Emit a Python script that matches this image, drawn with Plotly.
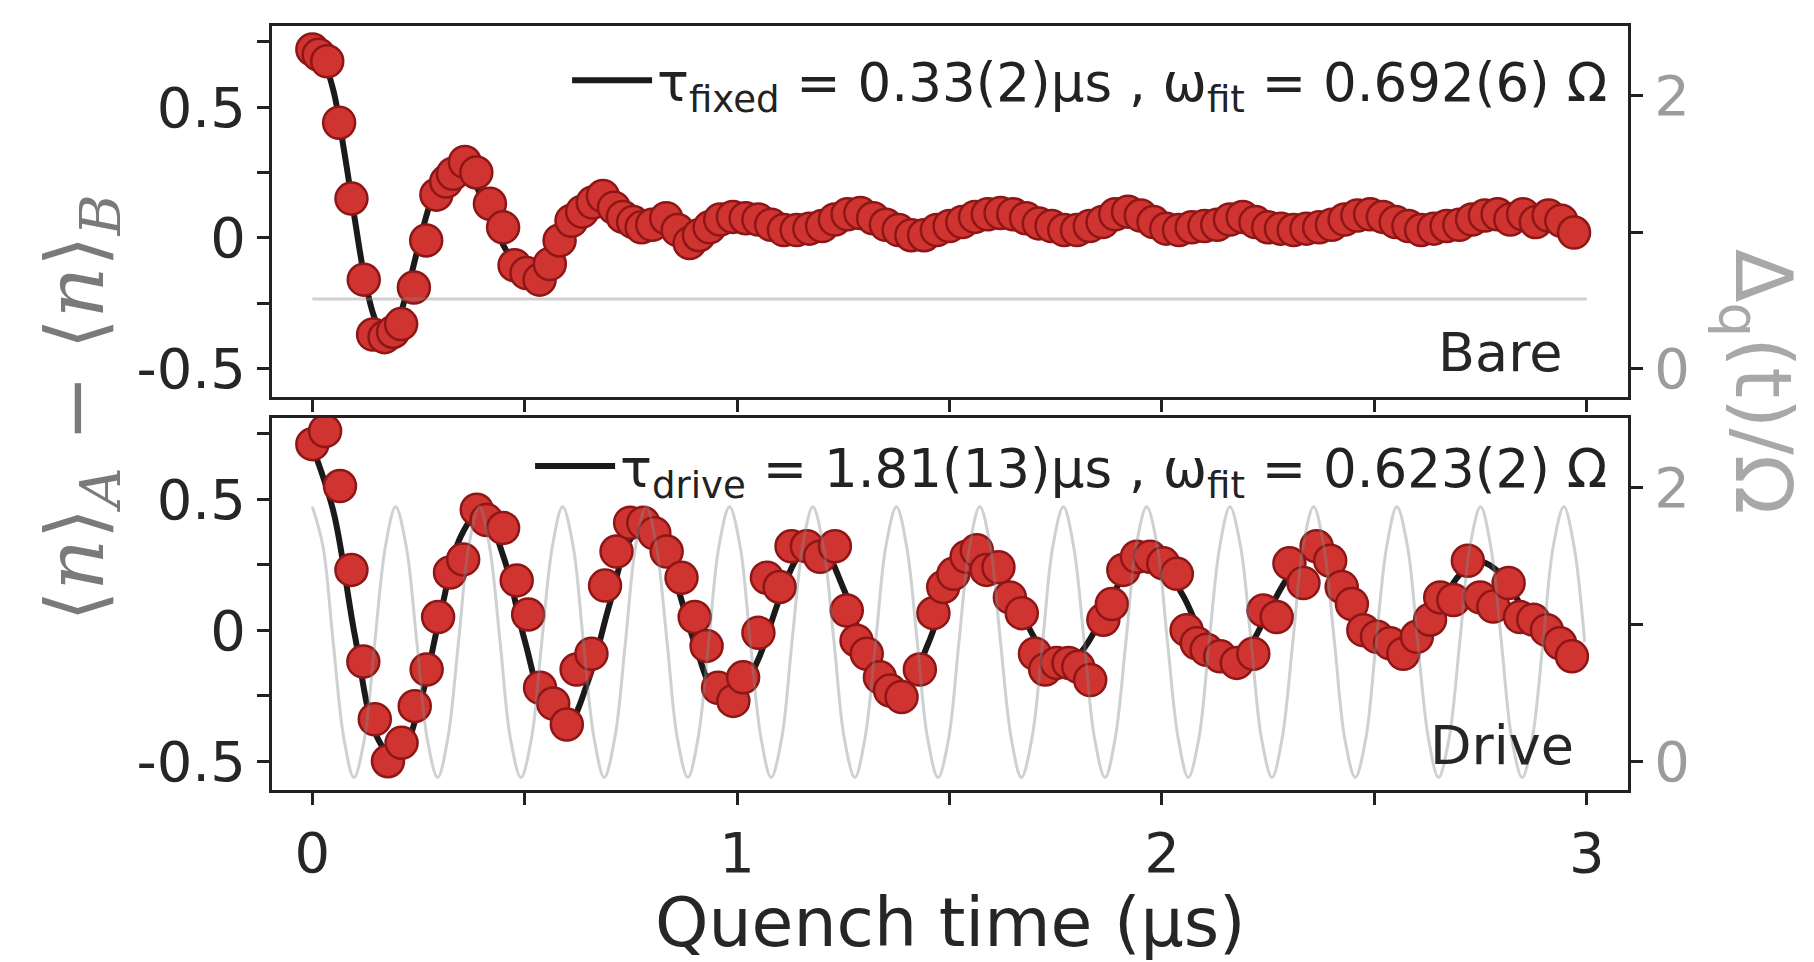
import plotly.graph_objects as go

# ---------------- data ----------------
# Bare panel: measured imbalance <n>_A - <n>_B
bare_t = [0.000, 0.015, 0.035, 0.063, 0.092, 0.121, 0.143, 0.170, 0.190, 0.209,
          0.239, 0.268, 0.292, 0.315, 0.331, 0.359, 0.386, 0.418, 0.449, 0.476,
          0.504, 0.535, 0.559, 0.582, 0.610, 0.635, 0.660, 0.684, 0.710, 0.731,
          0.755, 0.775, 0.800, 0.833, 0.860, 0.888, 0.910, 0.935, 0.960, 0.990,
          1.02, 1.05, 1.08, 1.11, 1.14, 1.17, 1.20, 1.23, 1.26, 1.29,
          1.32, 1.35, 1.38, 1.41, 1.44, 1.47, 1.50, 1.53, 1.56, 1.59,
          1.62, 1.65, 1.68, 1.71, 1.74, 1.77, 1.80, 1.83, 1.86, 1.89,
          1.92, 1.95, 1.98, 2.01, 2.04, 2.07, 2.10, 2.13, 2.16, 2.19,
          2.22, 2.25, 2.28, 2.31, 2.34, 2.37, 2.40, 2.43, 2.46, 2.49,
          2.52, 2.55, 2.58, 2.61, 2.64, 2.67, 2.70, 2.73, 2.76, 2.79,
          2.82, 2.85, 2.88, 2.91, 2.94, 2.97]
bare_v = [0.72, 0.70, 0.675, 0.44, 0.15, -0.16, -0.37, -0.38, -0.36, -0.33,
          -0.19, -0.01, 0.165, 0.215, 0.245, 0.29, 0.25, 0.13, 0.04, -0.105,
          -0.135, -0.16, -0.10, -0.01, 0.065, 0.10, 0.135, 0.16, 0.115, 0.08,
          0.06, 0.04, 0.05, 0.075, 0.03, -0.02, 0.01, 0.04, 0.07, 0.08,
          0.075, 0.07, 0.05, 0.03, 0.03, 0.035, 0.045, 0.07, 0.09, 0.095,
          0.075, 0.05, 0.03, 0.01, 0.01, 0.03, 0.045, 0.06, 0.08, 0.09,
          0.095, 0.09, 0.075, 0.055, 0.045, 0.03, 0.03, 0.045, 0.06, 0.09,
          0.10, 0.085, 0.06, 0.035, 0.03, 0.04, 0.045, 0.05, 0.07, 0.08,
          0.06, 0.04, 0.035, 0.03, 0.035, 0.04, 0.05, 0.07, 0.085, 0.09,
          0.08, 0.06, 0.045, 0.03, 0.035, 0.045, 0.05, 0.07, 0.085, 0.09,
          0.07, 0.09, 0.06, 0.085, 0.065, 0.02]

# Bare panel fit (tau_fixed)
bare_fit_t = [0.000, 0.025, 0.050, 0.075, 0.100, 0.125, 0.150, 0.175, 0.200, 0.225,
              0.250, 0.275, 0.300, 0.325, 0.350, 0.375, 0.400, 0.425, 0.450, 0.475,
              0.500, 0.525, 0.550, 0.575, 0.600, 0.625, 0.650, 0.675, 0.700, 0.725,
              0.750, 0.800, 0.850, 0.900, 0.950, 1.000, 1.100, 1.200, 1.500, 2.000,
              2.500, 2.970]
bare_fit_v = [0.72, 0.68, 0.56, 0.33, 0.07, -0.17, -0.32, -0.37, -0.32, -0.19,
              -0.03, 0.12, 0.22, 0.27, 0.27, 0.23, 0.15, 0.06, -0.03, -0.09,
              -0.12, -0.11, -0.07, -0.01, 0.05, 0.10, 0.12, 0.12, 0.10, 0.08,
              0.05, 0.03, 0.04, 0.06, 0.075, 0.075, 0.065, 0.06, 0.06, 0.06,
              0.06, 0.06]

# Bare panel: static detuning level (right axis)
bare_level_t = [0.0, 3.0]
bare_level_v = [0.51, 0.51]

# Drive panel: measured imbalance
drive_t = [0.000, 0.030, 0.065, 0.092, 0.120, 0.147, 0.178, 0.210, 0.241, 0.269,
           0.296, 0.324, 0.355, 0.387, 0.410, 0.449, 0.481, 0.508, 0.536, 0.567,
           0.599, 0.622, 0.657, 0.689, 0.716, 0.748, 0.779, 0.805, 0.834, 0.869,
           0.900, 0.928, 0.955, 0.991, 1.014, 1.050, 1.070, 1.100, 1.128, 1.164,
           1.195, 1.230, 1.258, 1.281, 1.305, 1.336, 1.360, 1.387, 1.430, 1.462,
           1.485, 1.509, 1.540, 1.564, 1.587, 1.615, 1.642, 1.670, 1.701, 1.725,
           1.752, 1.780, 1.803, 1.831, 1.862, 1.882, 1.909, 1.941, 1.972, 2.003,
           2.035, 2.058, 2.082, 2.105, 2.137, 2.176, 2.215, 2.239, 2.270, 2.300,
           2.333, 2.364, 2.396, 2.423, 2.447, 2.474, 2.506, 2.537, 2.568, 2.600,
           2.631, 2.655, 2.686, 2.720, 2.749, 2.780, 2.816, 2.843, 2.874, 2.906,
           2.937, 2.965]
drive_v = [0.71, 0.76, 0.55, 0.23, -0.12, -0.34, -0.50, -0.43, -0.29, -0.15,
           0.05, 0.22, 0.27, 0.46, 0.42, 0.39, 0.19, 0.06, -0.22, -0.28,
           -0.36, -0.15, -0.09, 0.17, 0.30, 0.41, 0.41, 0.37, 0.30, 0.20,
           0.05, -0.06, -0.22, -0.27, -0.18, -0.01, 0.20, 0.165, 0.32, 0.32,
           0.28, 0.32, 0.075, -0.04, -0.09, -0.18, -0.23, -0.255, -0.15, 0.065,
           0.165, 0.215, 0.28, 0.305, 0.23, 0.24, 0.125, 0.065, -0.09, -0.15,
           -0.125, -0.125, -0.14, -0.19, 0.04, 0.10, 0.23, 0.28, 0.28, 0.255,
           0.215, 0.0, -0.05, -0.075, -0.10, -0.125, -0.09, 0.075, 0.05, 0.255,
           0.18, 0.32, 0.265, 0.165, 0.10, 0.0, -0.025, -0.05, -0.09, -0.025,
           0.04, 0.125, 0.115, 0.265, 0.125, 0.09, 0.18, 0.05, 0.04, 0.0,
           -0.05, -0.10]

# Drive panel fit (tau_drive)
drive_fit_t = [0.00, 0.05, 0.10, 0.15, 0.20, 0.25, 0.30, 0.35, 0.40, 0.45,
               0.50, 0.55, 0.60, 0.65, 0.70, 0.75, 0.80, 0.85, 0.90, 0.95,
               1.00, 1.05, 1.10, 1.15, 1.20, 1.25, 1.30, 1.35, 1.40, 1.45,
               1.50, 1.55, 1.60, 1.65, 1.70, 1.75, 1.80, 1.85, 1.90, 1.95,
               2.00, 2.05, 2.10, 2.15, 2.20, 2.25, 2.30, 2.35, 2.40, 2.45,
               2.50, 2.55, 2.60, 2.65, 2.70, 2.75, 2.80, 2.85, 2.90, 2.95,
               2.98]
drive_fit_v = [0.70, 0.45, -0.02, -0.40, -0.50, -0.30, 0.05, 0.36, 0.46, 0.28,
               -0.04, -0.30, -0.36, -0.19, 0.10, 0.35, 0.39, 0.21, -0.05, -0.24,
               -0.25, -0.11, 0.12, 0.29, 0.31, 0.16, -0.06, -0.22, -0.21, -0.05,
               0.17, 0.30, 0.28, 0.14, -0.03, -0.13, -0.10, 0.02, 0.18, 0.27,
               0.25, 0.13, -0.03, -0.10, -0.07, 0.07, 0.21, 0.29, 0.25, 0.12,
               -0.01, -0.07, -0.03, 0.08, 0.21, 0.26, 0.21, 0.08, -0.04, -0.08,
               -0.07]

# Drive panel: modulated detuning Delta_q(t)/Omega (right axis)
mod_t = [0.000, 0.025, 0.049, 0.074, 0.098, 0.123, 0.147, 0.172, 0.196, 0.221,
         0.246, 0.270, 0.295, 0.319, 0.344, 0.368, 0.393, 0.417, 0.442, 0.466,
         0.491, 0.516, 0.540, 0.565, 0.589, 0.614, 0.638, 0.663, 0.687, 0.712,
         0.737, 0.761, 0.786, 0.810, 0.835, 0.859, 0.884, 0.908, 0.933, 0.957,
         0.982, 1.007, 1.031, 1.056, 1.080, 1.105, 1.129, 1.154, 1.178, 1.203,
         1.228, 1.252, 1.277, 1.301, 1.326, 1.350, 1.375, 1.399, 1.424, 1.448,
         1.473, 1.498, 1.522, 1.547, 1.571, 1.596, 1.620, 1.645, 1.669, 1.694,
         1.719, 1.743, 1.768, 1.792, 1.817, 1.841, 1.866, 1.890, 1.915, 1.939,
         1.964, 1.989, 2.013, 2.038, 2.062, 2.087, 2.111, 2.136, 2.160, 2.185,
         2.210, 2.234, 2.259, 2.283, 2.308, 2.332, 2.357, 2.381, 2.406, 2.430,
         2.455, 2.480, 2.504, 2.529, 2.553, 2.578, 2.602, 2.627, 2.651, 2.676,
         2.701, 2.725, 2.750, 2.774, 2.799, 2.823, 2.848, 2.872, 2.897, 2.921,
         2.946, 2.970, 2.995]
mod_v = [1.86, 1.57, 0.87, 0.17, -0.12, 0.17, 0.87, 1.57,
         1.86, 1.57, 0.87, 0.17, -0.12, 0.17, 0.87, 1.57,
         1.86, 1.57, 0.87, 0.17, -0.12, 0.17, 0.87, 1.57,
         1.86, 1.57, 0.87, 0.17, -0.12, 0.17, 0.87, 1.57,
         1.86, 1.57, 0.87, 0.17, -0.12, 0.17, 0.87, 1.57,
         1.86, 1.57, 0.87, 0.17, -0.12, 0.17, 0.87, 1.57,
         1.86, 1.57, 0.87, 0.17, -0.12, 0.17, 0.87, 1.57,
         1.86, 1.57, 0.87, 0.17, -0.12, 0.17, 0.87, 1.57,
         1.86, 1.57, 0.87, 0.17, -0.12, 0.17, 0.87, 1.57,
         1.86, 1.57, 0.87, 0.17, -0.12, 0.17, 0.87, 1.57,
         1.86, 1.57, 0.87, 0.17, -0.12, 0.17, 0.87, 1.57,
         1.86, 1.57, 0.87, 0.17, -0.12, 0.17, 0.87, 1.57,
         1.86, 1.57, 0.87, 0.17, -0.12, 0.17, 0.87, 1.57,
         1.86, 1.57, 0.87, 0.17, -0.12, 0.17, 0.87, 1.57,
         1.86, 1.57, 0.87, 0.17, -0.12, 0.17, 0.87, 1.57,
         1.86, 1.57, 0.87]

x_ticks = [0, 0.5, 1, 1.5, 2, 2.5, 3]
x_ticktext = ["0", "", "1", "", "2", "", "3"]
left_ticks = [-0.5, -0.25, 0, 0.25, 0.5, 0.75]
left_ticktext = ["-0.5", "", "0", "", "0.5", ""]
right_ticks = [0, 1, 2]
right_ticktext = ["0", "", "2"]

bare_label = "τ<sub>fixed</sub> = 0.33(2)µs , ω<sub>fit</sub> = 0.692(6) Ω"
drive_label = "τ<sub>drive</sub> = 1.81(13)µs , ω<sub>fit</sub> = 0.623(2) Ω"

# ---------------- styling ----------------
FONT = "DejaVu Sans"
AX = "#222222"
RED = "#cf3430"
RED_EDGE = "#8e1616"
GRAY = "rgba(130,140,140,0.40)"
X_RANGE = [-0.095, 3.097]
L_RANGE = [-0.61, 0.81]
R_RANGE = [-0.211, 2.51]

fig = go.Figure()

def add_panel(xa, ya, ra, t, v, ft, fv, gt, gv, legend_name, legend_id):
    fig.add_trace(go.Scatter(x=ft, y=fv, xaxis=xa, yaxis=ya, mode="lines",
                             line=dict(color="#1a1a1a", width=6, shape="spline"),
                             name=legend_name, legend=legend_id, showlegend=True,
                             hoverinfo="skip"))
    fig.add_trace(go.Scatter(x=t, y=v, xaxis=xa, yaxis=ya, mode="markers",
                             marker=dict(size=32, color=RED,
                                         line=dict(color=RED_EDGE, width=2.5)),
                             showlegend=False))
    fig.add_trace(go.Scatter(x=gt, y=gv, xaxis=xa, yaxis=ra, mode="lines",
                             line=dict(color=GRAY, width=3, shape="spline"),
                             showlegend=False, hoverinfo="skip"))

add_panel("x", "y", "y3", bare_t, bare_v, bare_fit_t, bare_fit_v,
          bare_level_t, bare_level_v, bare_label, "legend")
add_panel("x2", "y2", "y4", drive_t, drive_v, drive_fit_t, drive_fit_v,
          mod_t, mod_v, drive_label, "legend2")

tickfont = dict(family=FONT, size=56, color="#262626")
rtickfont = dict(family=FONT, size=56, color="#9c9c9c")

def xax(anchor, labels, inside=False, overlay=None):
    d = dict(anchor=anchor, domain=[0, 1], range=X_RANGE, showgrid=False,
             zeroline=False, tickmode="array", tickvals=x_ticks,
             ticktext=x_ticktext, ticklen=12, tickwidth=3, tickcolor=AX,
             tickfont=tickfont, showticklabels=labels)
    if inside:
        d.update(ticks="inside", showline=False, showticklabels=False,
                 overlaying=overlay)
    else:
        d.update(ticks="outside", showline=True, linecolor=AX, linewidth=3,
                 mirror=True)
    return d

def yax(anchor, domain, rng, vals, text, font, side, inside=False, overlay=None):
    d = dict(anchor=anchor, range=rng, showgrid=False, zeroline=False,
             tickmode="array", tickvals=vals, ticktext=text, ticklen=12,
             tickwidth=3, tickcolor=AX, tickfont=font, side=side)
    if overlay is None:
        d["domain"] = domain
    else:
        d["overlaying"] = overlay
    if inside:
        d.update(ticks="inside", showline=False, showticklabels=False)
    else:
        d.update(ticks="outside", showline=True, linecolor=AX, linewidth=3)
    return d

TOP = [0.514, 1.0]
BOT = [0.0, 0.487]

legend_font = dict(family=FONT, size=53, color="#222")

fig.update_layout(
    width=1814, height=962,
    margin=dict(l=272, r=186, t=26, b=172),
    paper_bgcolor="white", plot_bgcolor="rgba(0,0,0,0)",
    xaxis=xax("y", False),
    xaxis2=xax("y2", True),
    xaxis3=xax("y", False, inside=True, overlay="x"),
    xaxis4=xax("y2", False, inside=True, overlay="x2"),
    yaxis=yax("x", TOP, L_RANGE, left_ticks, left_ticktext, tickfont, "left"),
    yaxis2=yax("x2", BOT, L_RANGE, left_ticks, left_ticktext, tickfont, "left"),
    yaxis3=yax("x", TOP, R_RANGE, right_ticks, right_ticktext, rtickfont, "right", overlay="y"),
    yaxis4=yax("x2", BOT, R_RANGE, right_ticks, right_ticktext, rtickfont, "right", overlay="y2"),
    yaxis5=yax("x", TOP, L_RANGE, left_ticks, left_ticktext, tickfont, "left", inside=True, overlay="y"),
    yaxis6=yax("x2", BOT, L_RANGE, left_ticks, left_ticktext, tickfont, "left", inside=True, overlay="y2"),
    yaxis7=yax("x", TOP, R_RANGE, right_ticks, right_ticktext, rtickfont, "right", inside=True, overlay="y"),
    yaxis8=yax("x2", BOT, R_RANGE, right_ticks, right_ticktext, rtickfont, "right", inside=True, overlay="y2"),
    legend=dict(x=0.989, y=0.929, xanchor="right", yanchor="middle",
                bgcolor="rgba(0,0,0,0)", font=legend_font,
                itemwidth=80, borderwidth=0),
    legend2=dict(x=0.989, y=0.424, xanchor="right", yanchor="middle",
                 bgcolor="rgba(0,0,0,0)", font=legend_font,
                 itemwidth=80, borderwidth=0),
    showlegend=True,
)

fig.add_annotation(text="Bare", xref="paper", yref="paper", x=0.953, y=0.572,
                   xanchor="right", yanchor="middle", showarrow=False,
                   font=dict(family=FONT, size=54, color="#262626"))
fig.add_annotation(text="Drive", xref="paper", yref="paper", x=0.962, y=0.058,
                   xanchor="right", yanchor="middle", showarrow=False,
                   font=dict(family=FONT, size=54, color="#262626"))
fig.add_annotation(text="Quench time (µs)", xref="paper", yref="paper", x=0.5, y=-0.173,
                   xanchor="center", yanchor="middle", showarrow=False,
                   font=dict(family=FONT, size=68, color="#262626"))
fig.add_annotation(text="⟨<i>n</i>⟩<sub><i>A</i></sub> − ⟨<i>n</i>⟩<sub><i>B</i></sub>",
                   xref="paper", yref="paper", x=-0.141, y=0.5, textangle=-90,
                   xanchor="center", yanchor="middle", showarrow=False,
                   font=dict(family="DejaVu Serif", size=80, color="#7a7a7a"))
fig.add_annotation(text="Δ<sub>q</sub>(t)/Ω", xref="paper", yref="paper", x=1.096, y=0.535,
                   textangle=90, xanchor="center", yanchor="middle", showarrow=False,
                   font=dict(family=FONT, size=78, color="#a8a8a8"))

fig.write_html("out.html")
